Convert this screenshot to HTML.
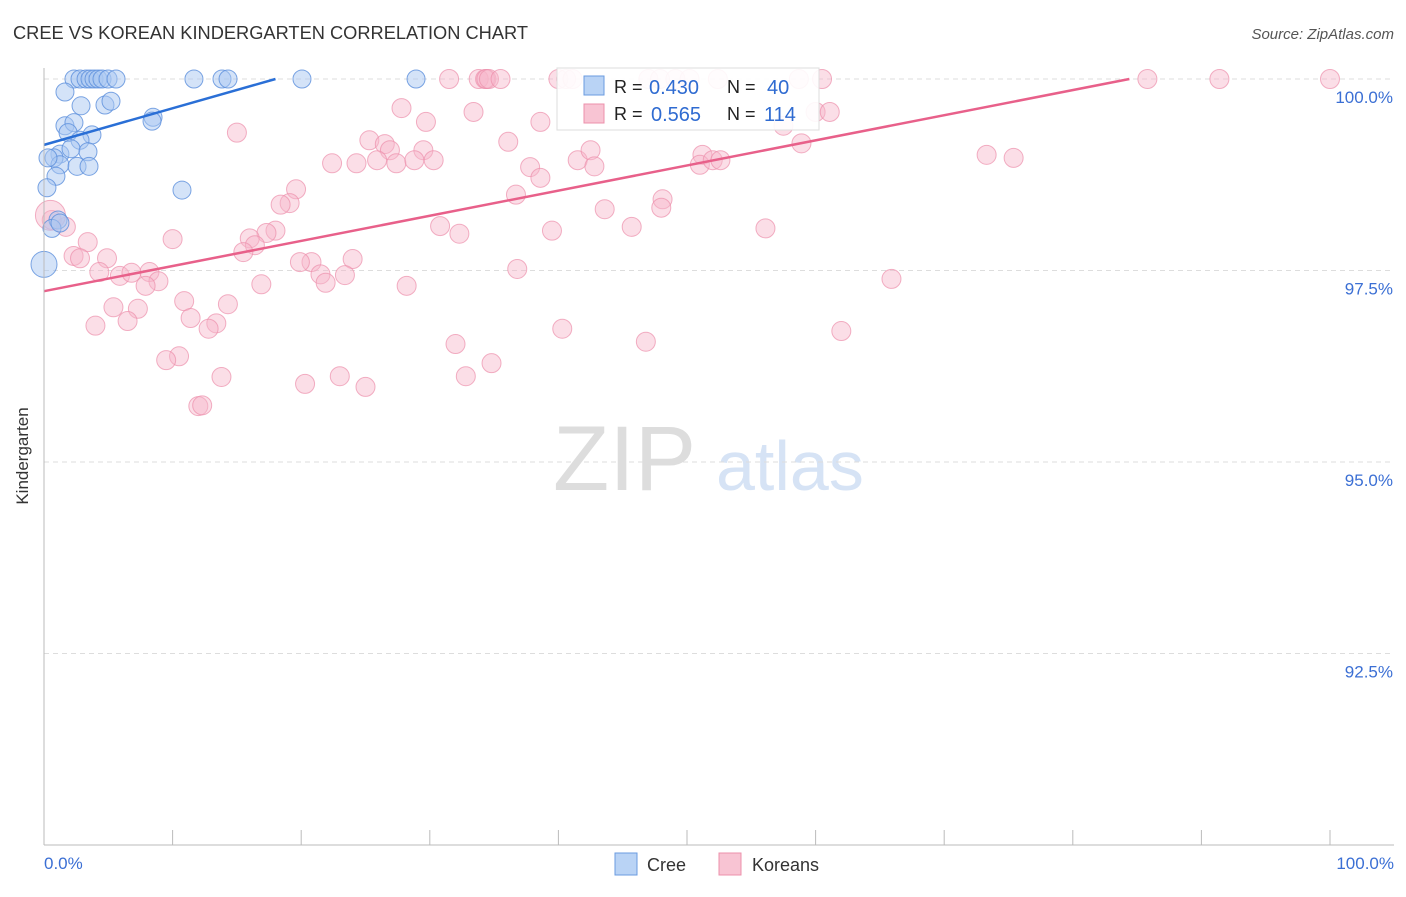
<!DOCTYPE html>
<html><head><meta charset="utf-8"><style>
body{margin:0;background:#fff;font-family:"Liberation Sans",sans-serif;}
svg text{font-family:"Liberation Sans",sans-serif;}
</style></head><body>
<svg id="chart" width="1406" height="892">
<text x="13" y="39" font-size="18" fill="#333" textLength="515" lengthAdjust="spacingAndGlyphs">CREE VS KOREAN KINDERGARTEN CORRELATION CHART</text>
<text x="1394" y="39" font-size="15" fill="#555" text-anchor="end" font-style="italic">Source: ZipAtlas.com</text>
<text x="553" y="490" font-size="92" fill="#ddd" font-family="Liberation Serif">ZIP</text>
<text x="716" y="490" font-size="70" fill="#d6e3f5">atlas</text>
<g id="grid"></g><g id="pts"></g><g id="lines"></g>
<line x1="44" y1="68" x2="44" y2="845" stroke="#bbb"/>
<line x1="44" y1="845" x2="1394" y2="845" stroke="#bbb"/>
<text x="28" y="456" font-size="17" fill="#333" text-anchor="middle" transform="rotate(-90 28 456)">Kindergarten</text>
<text x="44" y="869" font-size="17" fill="#3b6fd4">0.0%</text>
<text x="1394" y="869" font-size="17" fill="#3b6fd4" text-anchor="end">100.0%</text>
<g>
<rect x="557" y="68" width="262" height="62" fill="#fff" fill-opacity="0.9" stroke="#ddd"/>
<rect x="584" y="76" width="20" height="19" fill="#b9d3f5" stroke="#6a9be0"/>
<rect x="584" y="104" width="20" height="19" fill="#f8c4d3" stroke="#ec90ab"/>
<text x="614" y="93" font-size="18" fill="#222">R =</text>
<text x="649" y="94" font-size="20" fill="#2f6bd1">0.430</text>
<text x="727" y="93" font-size="18" fill="#222">N =</text>
<text x="767" y="94" font-size="20" fill="#2f6bd1">40</text>
<text x="614" y="120" font-size="18" fill="#222">R =</text>
<text x="651" y="121" font-size="20" fill="#2f6bd1">0.565</text>
<text x="727" y="120" font-size="18" fill="#222">N =</text>
<text x="764" y="121" font-size="20" fill="#2f6bd1">114</text>
</g>
<g><rect x="615" y="853" width="22" height="22" fill="#b9d3f5" stroke="#6a9be0"/><text x="647" y="871" font-size="18" fill="#333">Cree</text></g>
<g><rect x="719" y="853" width="22" height="22" fill="#f8c4d3" stroke="#ec90ab"/><text x="752" y="871" font-size="18" fill="#333">Koreans</text></g>
</svg>
<script>
const yTicks=[100,97.5,95,92.5];
const yTickLabels=["100.0%","97.5%","95.0%","92.5%"];
const xTicks=[0,10,20,30,40,50,60,70,80,90,100];
const creeX=[2.33,2.8,3.27,3.58,3.89,4.2,4.51,4.98,5.6,11.66,13.84,14.31,20.06,28.93,1.63,2.88,4.74,5.21,8.48,8.4,1.63,2.33,1.87,3.73,2.8,1.24,0.78,2.1,3.42,1.24,2.57,3.5,0.93,0.23,10.73,1.09,0.62,0,1.24,0.31];
const creeY=[100,100,100,100,100,100,100,100,100,100,100,100,100,100,99.83,99.65,99.66,99.71,99.5,99.45,99.39,99.43,99.3,99.27,99.2,99.02,98.97,99.09,99.05,98.88,98.86,98.86,98.73,98.58,98.55,98.16,98.05,97.58,98.12,98.97];
const creeSize=[9,9,9,9,9,9,9,9,9,9,9,9,9,9,9,9,9,9,9,9,9,9,9,9,9,9,9,9,9,9,9,9,9,9,9,9,9,13,9,9];
const korX=[31.5,33.8,34.3,34.4,34.6,35.5,40.0,40.6,41.1,47.0,47.9,49.1,50.2,52.4,58.7,60.5,85.8,91.4,100,27.8,33.4,29.7,38.6,15.0,36.1,25.3,26.5,26.9,29.5,22.4,24.3,25.9,27.4,28.8,30.3,41.5,42.5,42.8,37.8,38.6,36.7,19.6,19.1,18.4,51.2,51.0,52.0,52.6,57.5,58.9,60.0,61.1,73.3,75.4,43.6,48.1,48.0,45.7,56.1,30.8,32.3,39.5,18.0,17.3,16.0,16.4,15.5,3.4,10.0,2.3,2.8,4.9,4.3,5.9,6.8,8.2,8.9,7.9,20.8,19.9,21.5,21.9,24.0,23.4,36.8,65.9,28.2,16.9,5.4,7.3,10.9,14.3,11.4,13.4,12.8,6.5,4.0,40.3,46.8,62.0,32.0,10.5,9.5,34.8,32.8,23.0,25.0,20.3,13.8,12.0,12.3,0.6,1.7,0.5];
const korY=[100,100,100,100,100,100,100,100,100,100,100,100,100,100,100,100,100,100,100,99.62,99.57,99.44,99.44,99.3,99.18,99.2,99.15,99.07,99.07,98.9,98.9,98.94,98.9,98.94,98.94,98.94,99.07,98.86,98.85,98.71,98.49,98.56,98.38,98.36,99.01,98.88,98.94,98.94,99.39,99.16,99.57,99.57,99.01,98.97,98.3,98.43,98.32,98.07,98.05,98.08,97.98,98.02,98.02,97.99,97.92,97.83,97.74,97.87,97.91,97.69,97.66,97.66,97.48,97.43,97.47,97.48,97.36,97.3,97.61,97.61,97.45,97.34,97.65,97.44,97.52,97.39,97.3,97.32,97.02,97.0,97.1,97.06,96.88,96.81,96.74,96.84,96.78,96.74,96.57,96.71,96.54,96.38,96.33,96.29,96.12,96.12,95.98,96.02,96.11,95.73,95.74,98.16,98.07,98.22];
const creeTrend=[0,99.14,18,100];
const korTrend=[0,97.23,84.4,100];
const NS='http://www.w3.org/2000/svg';
const xs=v=>44+v*12.86, ys=v=>79+(100-v)*76.6;
function mk(t,a,p){const e=document.createElementNS(NS,t);for(const k in a)e.setAttribute(k,a[k]);p.appendChild(e);return e;}
const grid=document.getElementById('grid');
yTicks.forEach((t,i)=>{
 const l=mk('line',{x1:44,x2:1394,y1:ys(t),y2:ys(t),stroke:'#ddd','stroke-dasharray':'5,4'},grid);
 
 
 const tx=mk('text',{x:1393,y:ys(t)+24,'font-size':17,fill:'#3b6fd4','text-anchor':'end'},grid);
 tx.textContent=yTickLabels[i];
 
 
});
xTicks.forEach(t=>{
 const l=mk('line',{x1:xs(t),x2:xs(t),y1:830,y2:845,stroke:'#bbb'},grid);
 
 
});
const pts=document.getElementById('pts');
korX.forEach((x,i)=>{
 const r=(i==korX.length-1)?15:9.5;
 const c=mk('circle',{cx:xs(x),cy:ys(korY[i]),r:r,fill:'#f6b6c9','fill-opacity':0.45,stroke:'#ec8fab','stroke-opacity':0.7},pts);
 
 
});
creeX.forEach((x,i)=>{
 const c=mk('circle',{cx:xs(x),cy:ys(creeY[i]),r:creeSize[i],fill:'#a9c8f2','fill-opacity':0.5,stroke:'#5b8fdc','stroke-opacity':0.8},pts);
 
 
});
const lines=document.getElementById('lines');
const l1=mk('line',{x1:xs(creeTrend[0]),y1:ys(creeTrend[1]),x2:xs(creeTrend[2]),y2:ys(creeTrend[3]),stroke:'#2a6fd6','stroke-width':2.5},lines);


const l2=mk('line',{x1:xs(korTrend[0]),y1:ys(korTrend[1]),x2:xs(korTrend[2]),y2:ys(korTrend[3]),stroke:'#e8608a','stroke-width':2.5},lines);


</script>
</body></html>
